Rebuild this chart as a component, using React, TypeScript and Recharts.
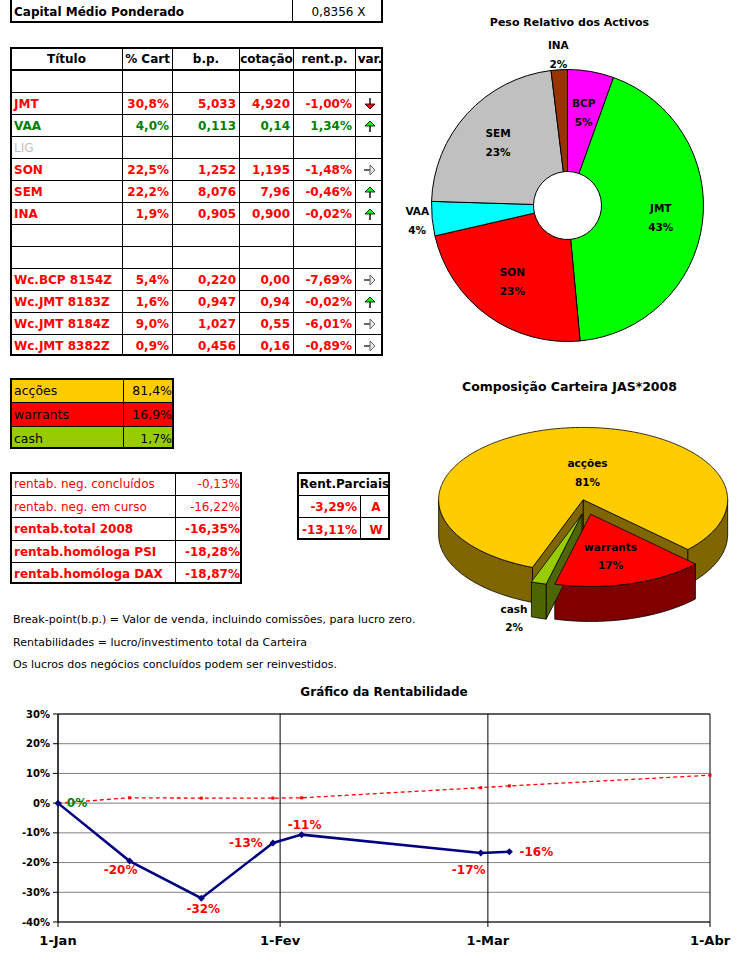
import React from "react";
import {
  PieChart,
  Pie,
  Cell,
  LineChart,
  Line,
  XAxis,
  YAxis,
  CartesianGrid,
  ReferenceLine,
  LabelList,
} from "recharts";

const FONT = '"Comic Sans MS", "DejaVu Sans", sans-serif';

// ---- tabela principal ----
const titulos = ["", "JMT", "VAA", "LIG", "SON", "SEM", "INA", "", "", "Wc.BCP 8154Z", "Wc.JMT 8183Z", "Wc.JMT 8184Z", "Wc.JMT 8382Z"];
const pctCarteira = ["", "30,8%", "4,0%", "", "22,5%", "22,2%", "1,9%", "", "", "5,4%", "1,6%", "9,0%", "0,9%"];
const breakPoints = ["", "5,033", "0,113", "", "1,252", "8,076", "0,905", "", "", "0,220", "0,947", "1,027", "0,456"];
const cotacoes = ["", "4,920", "0,14", "", "1,195", "7,96", "0,900", "", "", "0,00", "0,94", "0,55", "0,16"];
const rentParcial = ["", "-1,00%", "1,34%", "", "-1,48%", "-0,46%", "-0,02%", "", "", "-7,69%", "-0,02%", "-6,01%", "-0,89%"];
const variacao = ["", "down", "up", "", "right", "up", "up", "", "", "right", "up", "right", "right"];

// ---- composição ----
const alocNomes = ["acções", "warrants", "cash"];
const alocValores = [81.4, 16.9, 1.7];

// ---- rentabilidades ----
const rentabNomes = ["rentab. neg. concluídos", "rentab. neg. em curso", "rentab.total 2008", "rentab.homóloga PSI", "rentab.homóloga DAX"];
const rentabValores = ["-0,13%", "-16,22%", "-16,35%", "-18,28%", "-18,87%"];
const parciaisValores = ["-3,29%", "-13,11%"];
const parciaisTipos = ["A", "W"];

// ---- peso relativo dos activos ----
const activoNomes = ["BCP", "JMT", "SON", "VAA", "SEM", "INA"];
const activoPesos = [5.4, 42.3, 22.5, 4.0, 22.2, 1.9];

// ---- gráfico da rentabilidade (dias desde 1-Jan) ----
const diasRent = [0, 10, 20, 30, 34, 59, 63];
const rentabilidade = [0, -19.5, -32, -13.4, -10.6, -16.8, -16.35];
const diasRef = [0, 10, 20, 30, 34, 59, 63, 91];
const referencia = [0, 1.8, 1.7, 1.7, 1.8, 5.2, 5.8, 9.4];
const xTickDias = [0, 31, 60, 91];
const xTickLabels = ["1-Jan", "1-Fev", "1-Mar", "1-Abr"];
const yTicks = [-40, -30, -20, -10, 0, 10, 20, 30];

const notas = [
  "Break-point(b.p.) = Valor de venda, incluindo comissões, para lucro zero.",
  "Rentabilidades = lucro/investimento total da Carteira",
  "Os lucros dos negócios concluídos podem ser reinvestidos.",
];

const activoCores = ["#FF00FF", "#00FF00", "#FF0000", "#00FFFF", "#C0C0C0", "#993300"];
const alocCores = ["#FFCC00", "#FF0000", "#99CC00"];
const alocLados = ["#806600", "#800000", "#4D6600"];
const alocLabelFactor = [0.39, 0.6, 1.5];
const alocLabelDx = [17, -4, -3];
const rentLabelNudge: [number, number][] = [
  [19, 0], [-9, 9], [2, 11], [-27, 0], [3, -10], [-12, 17], [27, 0],
];

const activosData = activoNomes.map((nome, i) => ({ nome, peso: activoPesos[i] }));
const alocData = alocNomes.map((nome, i) => ({ nome, valor: alocValores[i] }));
const rentData = diasRent.map((dia, i) => ({ dia, v: rentabilidade[i] }));
const refData = diasRef.map((dia, i) => ({ dia, v: referencia[i] }));

const RAD = Math.PI / 180;
const RY = 0.5;
const DEPTH = 35;
const EXPLODE = 15;
const NO_MARGIN = { top: 0, right: 0, bottom: 0, left: 0 };

// ---------- tabelas ----------
type CellSpec = { t?: string; c?: string; b?: boolean; a?: "left" | "right" | "center"; bg?: string; span?: number; node?: React.ReactNode };

interface GridProps {
  x: number;
  y: number;
  widths: number[];
  heights: number[];
  rows: CellSpec[][];
  size?: number;
  thick?: number[];
}

function Grid({ x, y, widths, heights, rows, size = 12, thick = [] }: GridProps) {
  const W = widths.reduce((s, w) => s + w, 0);
  const H = heights.reduce((s, h) => s + h, 0);
  const out: React.ReactNode[] = [];
  let top = 0;
  rows.forEach((row, ri) => {
    let left = 0;
    let ci = 0;
    row.forEach((cell, k) => {
      const span = cell.span ?? 1;
      const w = widths.slice(ci, ci + span).reduce((s, v) => s + v, 0);
      const lastCol = ci + span >= widths.length;
      const lastRow = ri === rows.length - 1;
      const align = cell.a ?? "left";
      out.push(
        <div
          key={`${ri}-${k}`}
          style={{
            position: "absolute",
            left: left - 1,
            top: top - 1,
            width: w,
            height: heights[ri],
            boxSizing: "border-box",
            borderRight: lastCol ? "none" : "1px solid #000",
            borderBottom: lastRow ? "none" : `${thick.includes(ri) ? 2 : 1}px solid #000`,
            background: cell.bg,
            color: cell.c ?? "#000",
            fontWeight: cell.b ? "bold" : "normal",
            display: "flex",
            alignItems: "center",
            justifyContent: align === "left" ? "flex-start" : align === "right" ? "flex-end" : "center",
            padding: "0 3px",
            whiteSpace: "nowrap",
            overflow: "hidden",
          }}
        >
          {cell.node ?? cell.t}
        </div>
      );
      left += w;
      ci += span;
    });
    top += heights[ri];
  });
  return (
    <div
      style={{
        position: "absolute",
        left: x,
        top: y,
        width: W,
        height: H,
        boxSizing: "border-box",
        border: "2px solid #000",
        overflow: "hidden",
        fontSize: size,
        fontFamily: FONT,
      }}
    >
      {out}
    </div>
  );
}

function Arrow({ kind }: { kind: string }) {
  if (kind === "down")
    return (
      <svg width={14} height={14}>
        <line x1={7} y1={1} x2={7} y2={7} stroke="#000" strokeWidth={1.4} />
        <path d="M2,7 L12,7 L7,12 Z" fill="#FF0000" stroke="#000" strokeWidth={0.8} />
      </svg>
    );
  if (kind === "up")
    return (
      <svg width={14} height={14}>
        <path d="M2,7 L12,7 L7,2 Z" fill="#00FF00" stroke="#000" strokeWidth={0.8} />
        <line x1={7} y1={7} x2={7} y2={13} stroke="#000" strokeWidth={1.4} />
      </svg>
    );
  if (kind === "right")
    return (
      <svg width={14} height={14}>
        <line x1={1} y1={7} x2={7} y2={7} stroke="#000" strokeWidth={1.2} />
        <path d="M7,2 L12,7 L7,12 Z" fill="#E8E8E8" stroke="#555" strokeWidth={0.9} />
      </svg>
    );
  return null;
}

function corLinha(i: number) {
  if (titulos[i] === "LIG") return "#C0C0C0";
  if (rentParcial[i] && !rentParcial[i].startsWith("-")) return "#008000";
  return "#FF0000";
}

// ---------- pie 3D ----------
function ePt(cx: number, cy: number, r: number, a: number): [number, number] {
  return [cx + r * Math.cos(a * RAD), cy - r * RY * Math.sin(a * RAD)];
}

function explodedCenter(p: any): [number, number] {
  const mid = (p.startAngle + p.endAngle) / 2;
  return [p.cx + EXPLODE * Math.cos(mid * RAD), p.cy - EXPLODE * RY * Math.sin(mid * RAD)];
}

function arcPts(cx: number, cy: number, r: number, a: number, b: number) {
  const n = Math.max(2, Math.ceil(Math.abs(b - a)));
  const pts: [number, number][] = [];
  for (let i = 0; i <= n; i++) pts.push(ePt(cx, cy, r, a + ((b - a) * i) / n));
  return pts;
}

function WallShape(p: any) {
  const r = p.outerRadius;
  const lo = Math.min(p.startAngle, p.endAngle);
  const hi = Math.max(p.startAngle, p.endAngle);
  const [ox, oy] = explodedCenter(p);
  const paths: string[] = [];
  const face = (a: number) => {
    const [px, py] = ePt(ox, oy, r, a);
    return `M${ox},${oy}L${px},${py}L${px},${py + DEPTH}L${ox},${oy + DEPTH}Z`;
  };
  if (Math.sin((lo - 90) * RAD) < 0) paths.push(face(lo));
  if (Math.sin((hi + 90) * RAD) < 0) paths.push(face(hi));
  for (let k = Math.floor(lo / 360) - 1; k <= Math.ceil(hi / 360) + 1; k++) {
    const a = Math.max(lo, 180 + 360 * k);
    const b = Math.min(hi, 360 + 360 * k);
    if (b - a > 0.01) {
      const topPts = arcPts(ox, oy, r, a, b);
      const botPts = topPts.slice().reverse().map(([x, y]) => [x, y + DEPTH]);
      const all = [...topPts, ...botPts];
      paths.push("M" + all.map(([x, y]) => `${x},${y}`).join("L") + "Z");
    }
  }
  return (
    <g>
      {paths.map((d, i) => (
        <path key={i} d={d} fill={p.fill} stroke="#000" strokeWidth={0.8} strokeLinejoin="round" />
      ))}
    </g>
  );
}

function TopShape(p: any) {
  const r = p.outerRadius;
  const lo = Math.min(p.startAngle, p.endAngle);
  const hi = Math.max(p.startAngle, p.endAngle);
  const [ox, oy] = explodedCenter(p);
  const pts = arcPts(ox, oy, r, lo, hi);
  const d = `M${ox},${oy}L` + pts.map(([x, y]) => `${x},${y}`).join("L") + "Z";
  return <path d={d} fill={p.fill} stroke="#000" strokeWidth={0.8} strokeLinejoin="round" />;
}

function AlocLabel(p: any) {
  const { cx, cy, midAngle, outerRadius, percent, index, name } = p;
  const ox = cx + EXPLODE * Math.cos(midAngle * RAD);
  const oy = cy - EXPLODE * RY * Math.sin(midAngle * RAD);
  const f = alocLabelFactor[index];
  const x = ox + f * outerRadius * Math.cos(midAngle * RAD) + alocLabelDx[index];
  const y = oy - f * outerRadius * RY * Math.sin(midAngle * RAD);
  return (
    <g>
      <text x={x} y={y - 9} textAnchor="middle" dominantBaseline="central" fontSize={10.5} fontWeight="bold" fill="#000" fontFamily={FONT}>
        {name}
      </text>
      <text x={x} y={y + 9.5} textAnchor="middle" dominantBaseline="central" fontSize={10.5} fontWeight="bold" fill="#000" fontFamily={FONT}>
        {`${Math.round(percent * 100)}%`}
      </text>
    </g>
  );
}

function PesoLabel(p: any) {
  const { cx, cy, midAngle, percent, name } = p;
  const r = percent < 0.045 ? 151 : 94;
  const x = cx + r * Math.cos(-midAngle * RAD);
  const y = cy + r * Math.sin(-midAngle * RAD);
  return (
    <g>
      <text x={x} y={y - 9.5} textAnchor="middle" dominantBaseline="central" fontSize={10.5} fontWeight="bold" fill="#000" fontFamily={FONT}>
        {name}
      </text>
      <text x={x} y={y + 9.5} textAnchor="middle" dominantBaseline="central" fontSize={10.5} fontWeight="bold" fill="#000" fontFamily={FONT}>
        {`${Math.round(percent * 100)}%`}
      </text>
    </g>
  );
}

// ---------- linha ----------
const Diamond = (p: any) => {
  const { cx, cy, index } = p;
  if (cx == null || cy == null) return <g key={index} />;
  const s = 3.5;
  return <path key={index} d={`M${cx},${cy - s}L${cx + s},${cy}L${cx},${cy + s}L${cx - s},${cy}Z`} fill="#000080" />;
};

const RedDot = (p: any) => {
  const { cx, cy, index } = p;
  if (cx == null || cy == null) return <g key={index} />;
  return <rect key={index} x={cx - 1.5} y={cy - 1.5} width={3} height={3} fill="#FF0000" />;
};

const fmtPct = (v: number) => `${Math.sign(v) * Math.round(Math.abs(v))}%`;

const RentLabel = (p: any) => {
  const { x, y, value, index } = p;
  const [dx, dy] = rentLabelNudge[index] ?? [0, 0];
  return (
    <text
      x={Number(x) + dx}
      y={Number(y) + dy}
      textAnchor="middle"
      dominantBaseline="central"
      fontSize={12}
      fontWeight="bold"
      fill={index === 0 ? "#008000" : "#FF0000"}
      fontFamily={FONT}
    >
      {fmtPct(Number(value))}
    </text>
  );
};

export default function App() {
  const mainRows: CellSpec[][] = [
    ["Título", "% Cart", "b.p.", "cotação", "rent.p.", "var."].map((t) => ({ t, b: true, a: "center" as const })),
    ...titulos.map((t, i) => {
      const c = corLinha(i);
      const lig = t === "LIG";
      return [
        { t, c, b: !lig },
        { t: pctCarteira[i], c, b: true, a: "right" as const },
        { t: breakPoints[i], c, b: true, a: "right" as const },
        { t: cotacoes[i], c, b: true, a: "right" as const },
        { t: rentParcial[i], c, b: true, a: "right" as const },
        { node: <Arrow kind={variacao[i]} />, a: "center" as const },
      ];
    }),
  ];

  const alocRows: CellSpec[][] = alocNomes.map((n, i) => [
    { t: n, bg: alocCores[i] },
    { t: `${alocValores[i].toFixed(1).replace(".", ",")}%`, bg: alocCores[i], a: "right" as const },
  ]);

  const rentabRows: CellSpec[][] = rentabNomes.map((n, i) => [
    { t: n, c: "#FF0000", b: i >= 2 },
    { t: rentabValores[i], c: "#FF0000", b: i >= 2, a: "right" as const },
  ]);

  const parciaisRows: CellSpec[][] = [
    [{ t: "Rent.Parciais", b: true, span: 2, a: "center" }],
    ...parciaisValores.map((v, i) => [
      { t: v, c: "#FF0000", b: true, a: "right" as const },
      { t: parciaisTipos[i], c: "#FF0000", b: true, a: "center" as const },
    ]),
  ];

  return (
    <div
      style={{
        position: "absolute",
        left: 0,
        top: 0,
        width: 749,
        height: 968,
        background: "#fff",
        overflow: "hidden",
        fontFamily: FONT,
      }}
    >
      <Grid
        x={10}
        y={-2}
        widths={[282, 91]}
        heights={[25]}
        rows={[[{ t: "Capital Médio Ponderado", b: true }, { t: "0,8356 X", a: "center" }]]}
      />
      <Grid
        x={10}
        y={47}
        widths={[112, 50, 67, 54, 62, 28]}
        heights={[23, ...titulos.map(() => 22)]}
        rows={mainRows}
        thick={[0]}
      />
      <Grid x={10} y={378} widths={[113, 51]} heights={[24, 24, 23]} rows={alocRows} size={12.5} />
      <Grid x={10} y={472} widths={[165, 67]} heights={[23, 22, 23, 22, 22]} rows={rentabRows} />
      <Grid x={297} y={472} widths={[63, 30]} heights={[23, 22, 23]} rows={parciaisRows} />

      {notas.map((t, i) => (
        <div
          key={i}
          style={{ position: "absolute", left: 13, top: [613, 636, 658][i], fontSize: 11, whiteSpace: "nowrap", color: "#000" }}
        >
          {t}
        </div>
      ))}

      {/* Peso Relativo dos Activos */}
      <div style={{ position: "absolute", left: 390, top: 16, width: 359, textAlign: "center", fontSize: 11, fontWeight: "bold" }}>
        Peso Relativo dos Activos
      </div>
      <div style={{ position: "absolute", left: 390, top: 0 }}>
        <PieChart width={359} height={360} margin={NO_MARGIN}>
          <Pie
            data={activosData}
            dataKey="peso"
            nameKey="nome"
            cx={177.5}
            cy={205.5}
            innerRadius={34}
            outerRadius={136}
            startAngle={90}
            endAngle={-270}
            stroke="#000"
            strokeWidth={1}
            labelLine={false}
            label={PesoLabel}
            isAnimationActive={false}
          >
            {activosData.map((d, i) => (
              <Cell key={d.nome} fill={activoCores[i]} />
            ))}
          </Pie>
        </PieChart>
      </div>

      {/* Composição Carteira */}
      <div style={{ position: "absolute", left: 390, top: 379, width: 359, textAlign: "center", fontSize: 12.5, fontWeight: "bold" }}>
        Composição Carteira JAS*2008
      </div>
      <div style={{ position: "absolute", left: 390, top: 360 }}>
        <PieChart width={359} height={300} margin={NO_MARGIN}>
          <Pie
            data={alocData}
            dataKey="valor"
            nameKey="nome"
            cx={196.5}
            cy={147}
            innerRadius={0}
            outerRadius={144.5}
            startAngle={249.5}
            endAngle={-110.5}
            shape={WallShape}
            activeShape={WallShape}
            isAnimationActive={false}
          >
            {alocData.map((d, i) => (
              <Cell key={d.nome} fill={alocLados[i]} />
            ))}
          </Pie>
          <Pie
            data={alocData}
            dataKey="valor"
            nameKey="nome"
            cx={196.5}
            cy={147}
            innerRadius={0}
            outerRadius={144.5}
            startAngle={249.5}
            endAngle={-110.5}
            shape={TopShape}
            activeShape={TopShape}
            labelLine={false}
            label={AlocLabel}
            isAnimationActive={false}
          >
            {alocData.map((d, i) => (
              <Cell key={d.nome} fill={alocCores[i]} />
            ))}
          </Pie>
        </PieChart>
      </div>

      {/* Gráfico da Rentabilidade */}
      <div style={{ position: "absolute", left: 0, top: 685, width: 768, textAlign: "center", fontSize: 12, fontWeight: "bold" }}>
        Gráfico da Rentabilidade
      </div>
      <div style={{ position: "absolute", left: 0, top: 680 }}>
        <LineChart width={749} height={288} margin={{ top: 34, right: 39, bottom: 0, left: 0 }}>
          <CartesianGrid vertical={false} stroke="#808080" />
          <XAxis
            type="number"
            dataKey="dia"
            domain={[0, 91]}
            ticks={xTickDias}
            interval={0}
            tickFormatter={(d: number) => xTickLabels[xTickDias.indexOf(d)] ?? ""}
            height={46}
            axisLine={{ stroke: "#000" }}
            tickLine={{ stroke: "#000" }}
            tickSize={5}
            tickMargin={9}
            tick={{ fill: "#000", fontSize: 13, fontWeight: "bold", fontFamily: FONT }}
          />
          <YAxis
            type="number"
            domain={[-40, 30]}
            ticks={yTicks}
            interval={0}
            width={58}
            tickFormatter={(v: number) => `${v}%`}
            axisLine={{ stroke: "#000" }}
            tickLine={{ stroke: "#000" }}
            tickSize={5}
            tickMargin={3}
            tick={{ fill: "#000", fontSize: 10, fontWeight: "bold", fontFamily: FONT }}
          />
          {xTickDias.map((d) => (
            <ReferenceLine key={d} x={d} stroke="#000" />
          ))}
          <ReferenceLine y={30} stroke="#000" />
          <Line
            data={refData}
            dataKey="v"
            stroke="#FF0000"
            strokeWidth={1.3}
            strokeDasharray="4 3"
            dot={RedDot}
            isAnimationActive={false}
          />
          <Line
            data={rentData}
            dataKey="v"
            stroke="#000080"
            strokeWidth={2.5}
            dot={Diamond}
            isAnimationActive={false}
          >
            <LabelList dataKey="v" content={RentLabel} />
          </Line>
        </LineChart>
      </div>
    </div>
  );
}
